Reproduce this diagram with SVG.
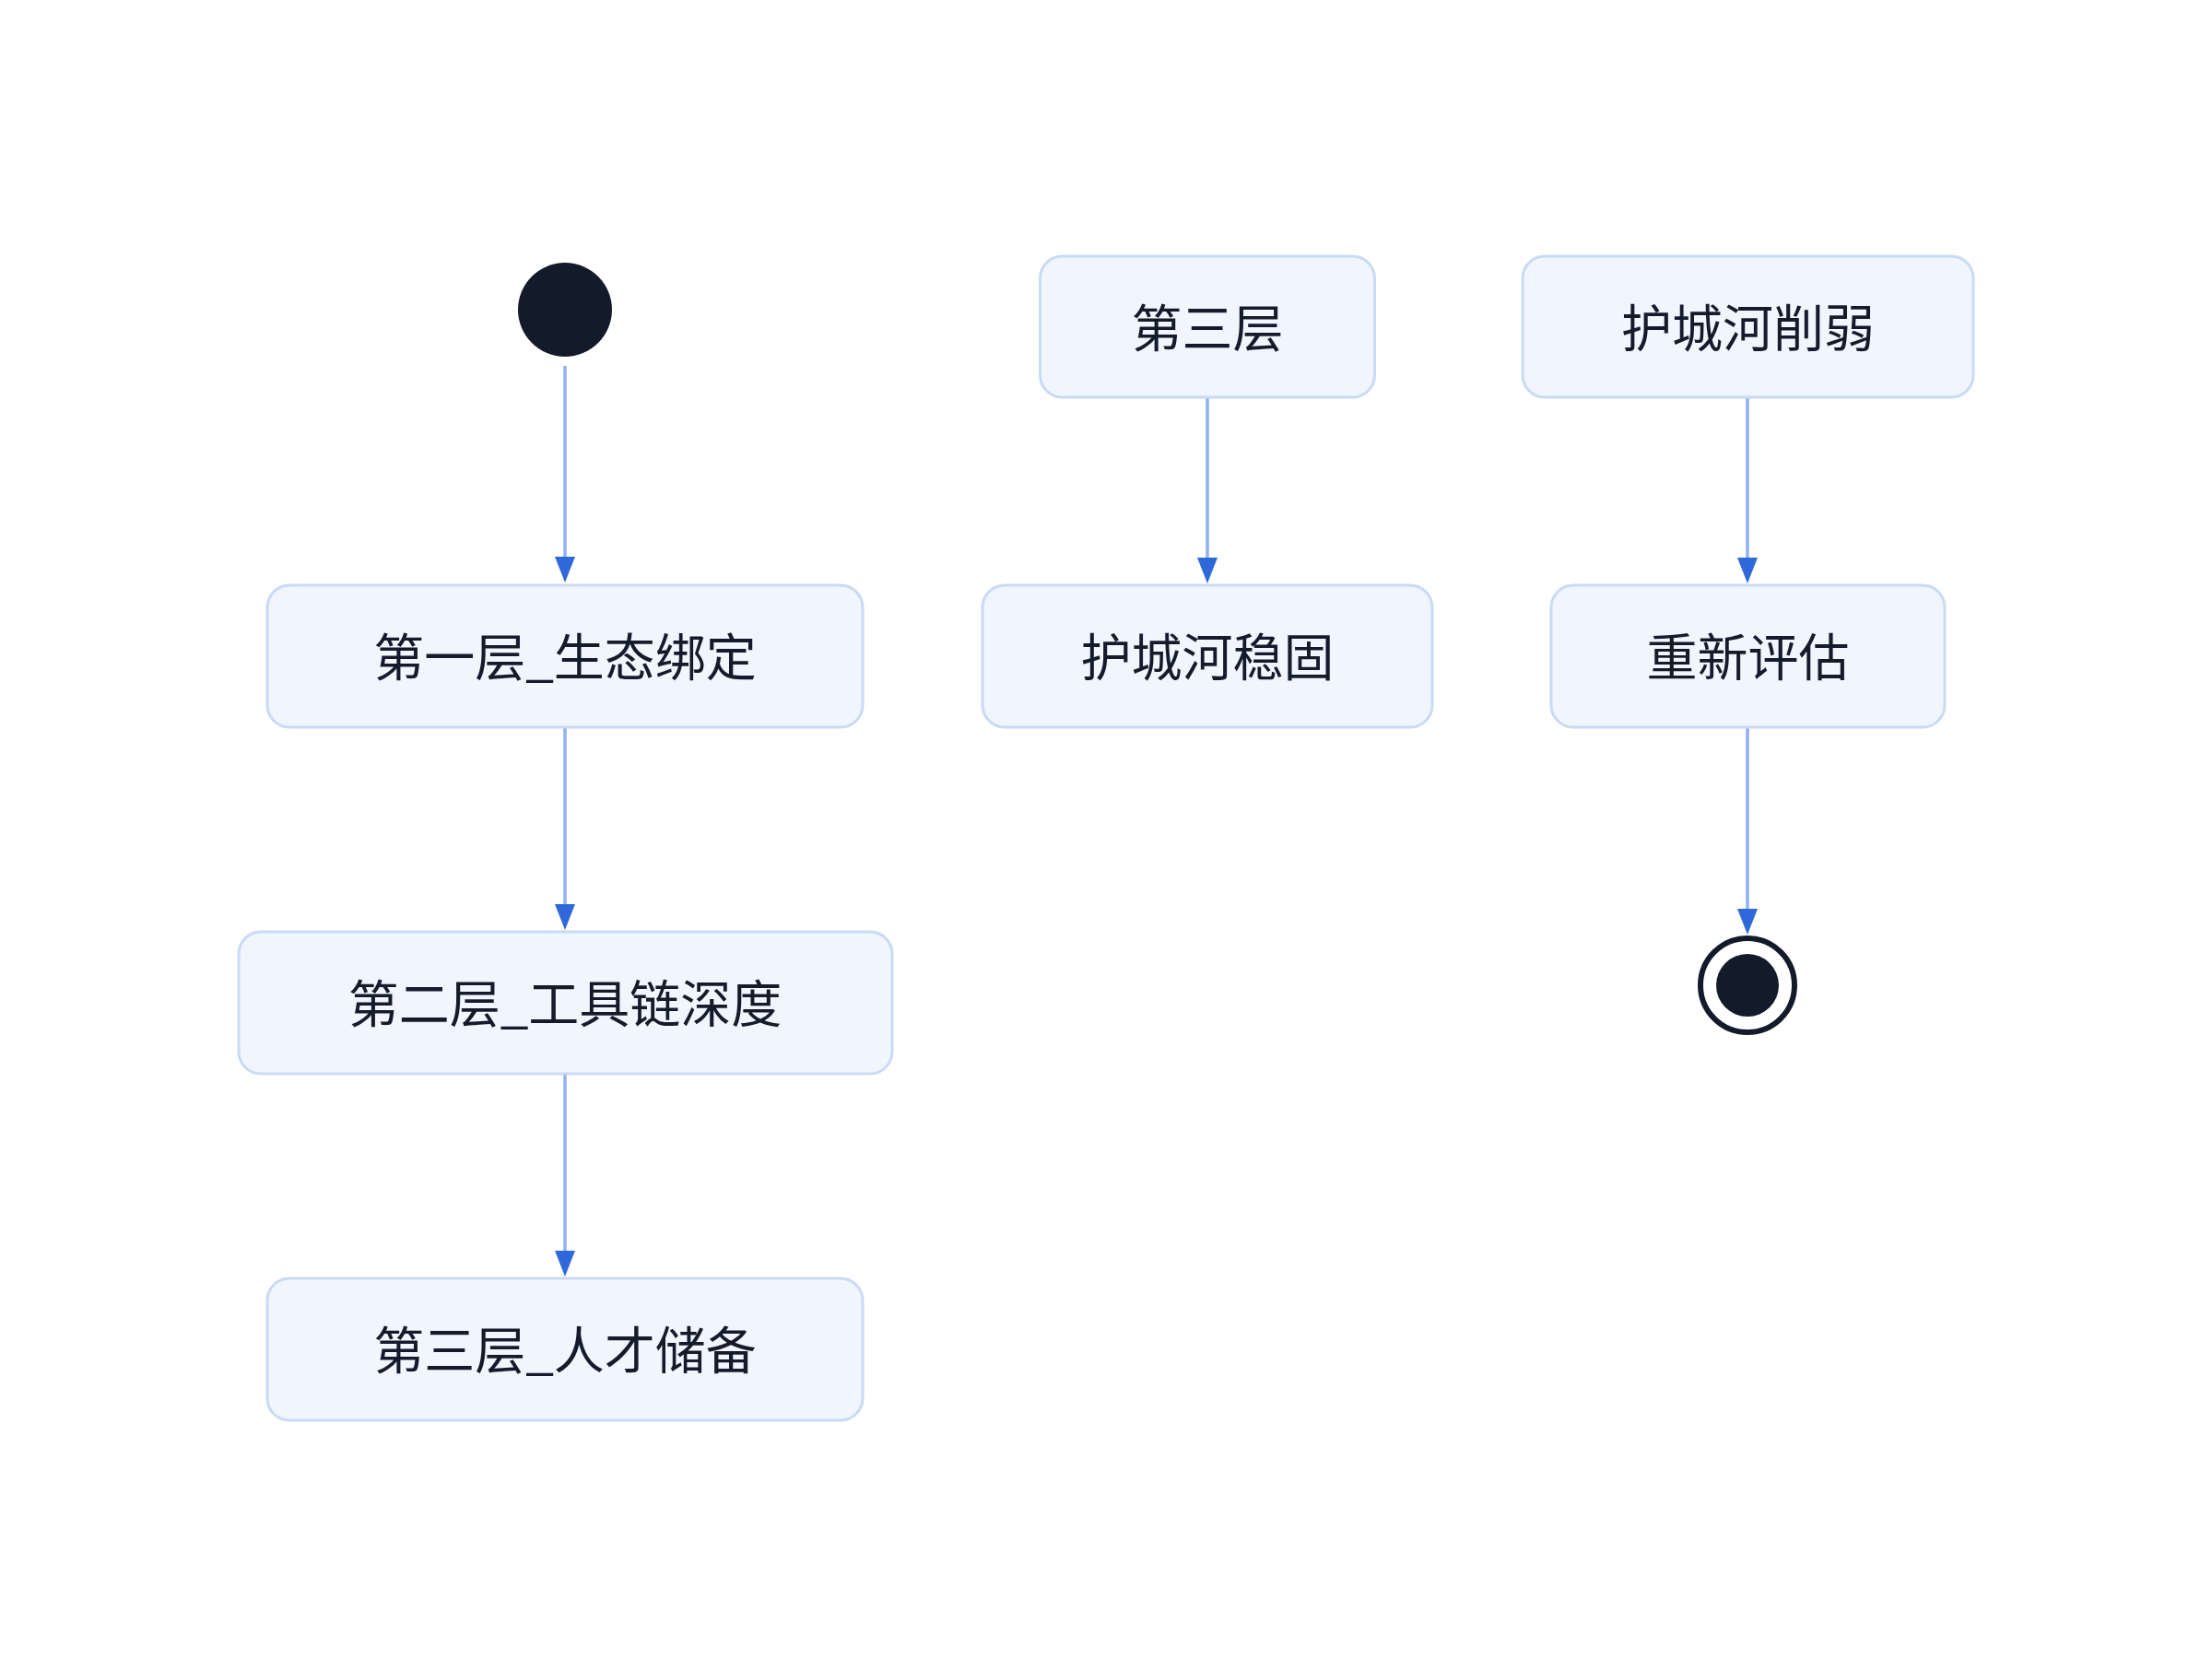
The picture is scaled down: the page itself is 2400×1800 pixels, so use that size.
<svg xmlns="http://www.w3.org/2000/svg" width="2400" height="1800" viewBox="0 0 2400 1800">
  <style>
    .box { fill: #F0F5FE; stroke: #C9DAF4; stroke-width: 3; }
    .lbl { font-family: "Noto Sans CJK SC", "Noto Sans", sans-serif; font-size: 55px; fill: #141B2B; text-anchor: middle; }
    .edge { stroke: #91B4F1; stroke-width: 3.6; fill: none; }
    .dark { fill: #131A29; }
  </style>
  <defs>
    <marker id="arrow" markerUnits="userSpaceOnUse" markerWidth="28" markerHeight="22" refX="0" refY="11" orient="auto" overflow="visible">
      <path d="M0,0 L28,11 L0,22 Z" fill="#2F69D9"/>
    </marker>
  </defs>
  <rect x="0" y="0" width="2400" height="1800" fill="#FFFFFF"/>

  <g id="connectors">
    <line class="edge" x1="613" y1="397" x2="613" y2="604" marker-end="url(#arrow)"/>
    <line class="edge" x1="613" y1="790" x2="613" y2="981" marker-end="url(#arrow)"/>
    <line class="edge" x1="613" y1="1166" x2="613" y2="1357" marker-end="url(#arrow)"/>
    <line class="edge" x1="1310" y1="432" x2="1310" y2="605" marker-end="url(#arrow)"/>
    <line class="edge" x1="1896" y1="432" x2="1896" y2="605" marker-end="url(#arrow)"/>
    <line class="edge" x1="1896" y1="790" x2="1896" y2="986" marker-end="url(#arrow)"/>
  </g>

  <g id="start">
    <circle class="dark" cx="613" cy="336" r="51"/>
  </g>

  <g id="n1">
    <rect class="box" x="290" y="635" width="646" height="154" rx="24" ry="24"/>
    <text class="lbl" x="613" y="733">第一层_生态绑定</text>
  </g>
  <g id="n2">
    <rect class="box" x="259" y="1011" width="709" height="154" rx="24" ry="24"/>
    <text class="lbl" x="613" y="1109">第二层_工具链深度</text>
  </g>
  <g id="n3">
    <rect class="box" x="290" y="1387" width="646" height="154" rx="24" ry="24"/>
    <text class="lbl" x="613" y="1485">第三层_人才储备</text>
  </g>

  <g id="n4">
    <rect class="box" x="1128.5" y="278" width="363" height="153" rx="24" ry="24"/>
    <text class="lbl" x="1310" y="376">第三层</text>
  </g>
  <g id="n5">
    <rect class="box" x="1066" y="635" width="488" height="154" rx="24" ry="24"/>
    <text class="lbl" x="1310" y="733">护城河稳固</text>
  </g>

  <g id="n6">
    <rect class="box" x="1652" y="278" width="489" height="153" rx="24" ry="24"/>
    <text class="lbl" x="1896.5" y="376">护城河削弱</text>
  </g>
  <g id="n7">
    <rect class="box" x="1683" y="635" width="427" height="154" rx="24" ry="24"/>
    <text class="lbl" x="1896.5" y="733">重新评估</text>
  </g>

  <g id="end">
    <circle cx="1896" cy="1069" r="51" fill="#FFFFFF" stroke="#131A29" stroke-width="6"/>
    <circle class="dark" cx="1896" cy="1069" r="34"/>
  </g>
</svg>
